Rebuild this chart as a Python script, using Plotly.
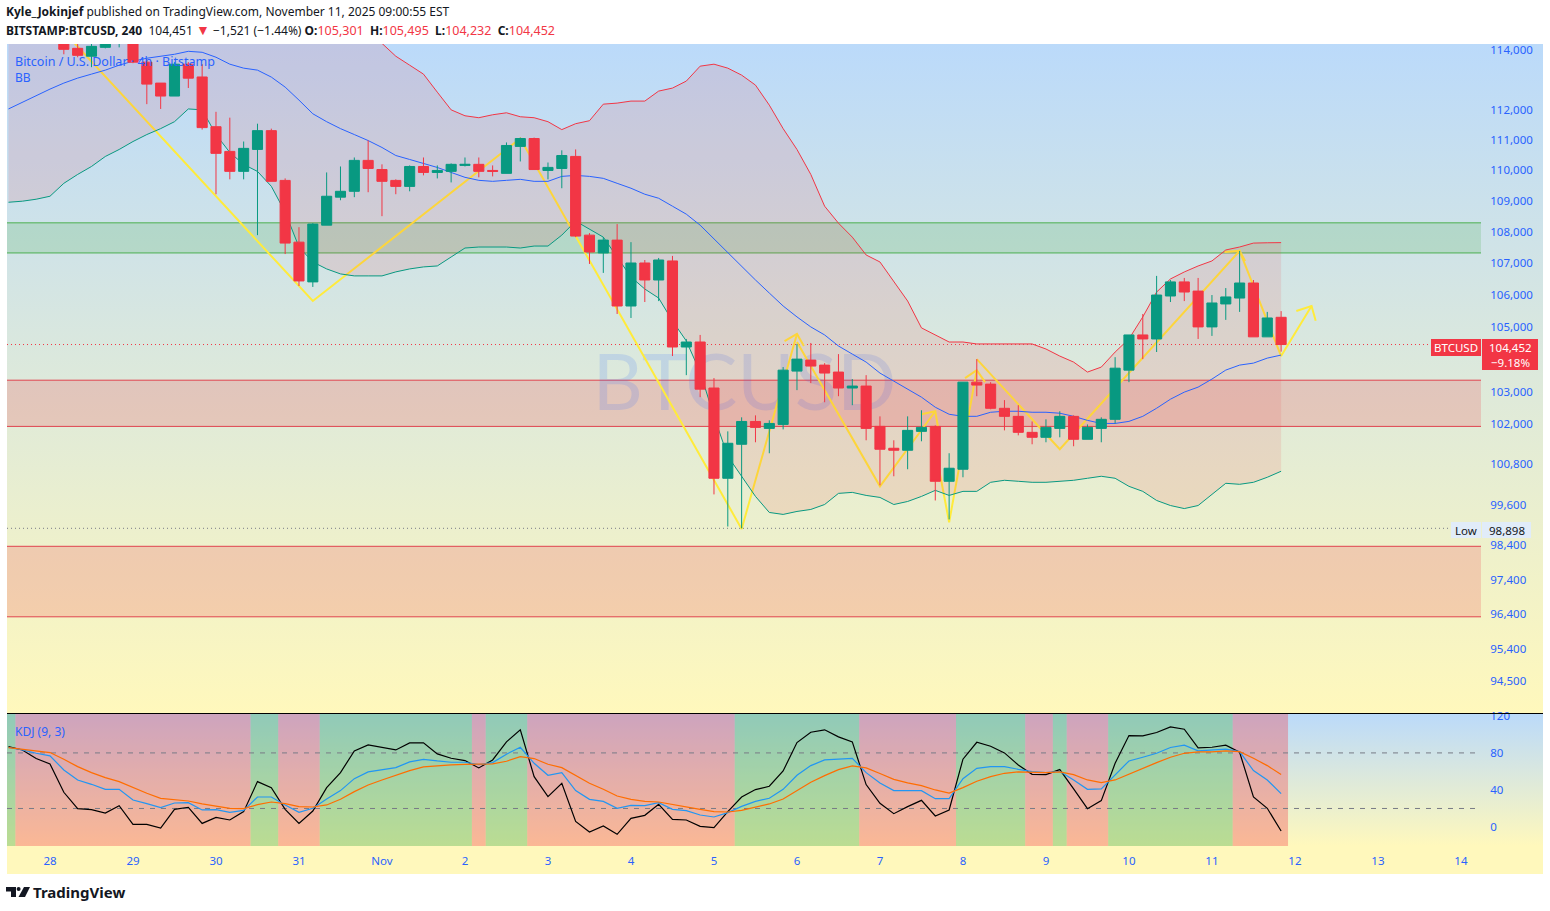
import plotly.graph_objects as go

W, H = 1550, 911
UP, DOWN = "#089981", "#F23645"
AXIS_BLUE = "#2962FF"
FONT = "Noto Sans"

# bars are numbered from the Oct 28 00:00 candle, 6 bars a day
candle_bars = list(range(1, 90))
opens = [114536, 114067, 113800, 114100, 114300, 114400, 113600, 112895, 112460, 113530,
         113100, 111440, 110625, 109970, 110690, 111310, 109675, 107680, 106415, 108225,
         109130, 109320, 110330, 110030, 109675, 109480, 110130, 109935, 109970, 110165,
         110200, 110000, 109905, 110790, 111050, 110000, 110065, 110460, 107905, 107335,
         107745, 105655, 107015, 106475, 107080, 104375, 104530, 103110, 100380, 101400,
         102090, 101880, 102000, 103630, 103970, 103815, 103600, 103110, 103170, 101940,
         101280, 101220, 101790, 101940, 100290, 100650, 103290, 103230, 102490, 102245,
         101760, 101610, 101880, 102245, 101550, 101880, 102155, 103660, 104750, 104625,
         105970, 106415, 106125, 105000, 105720, 105905, 106380, 104690, 105301]
highs = [114600, 114235, 114300, 114450, 114500, 114500, 113700, 112895, 113600, 113600,
         113530, 111935, 111740, 110950, 111540, 111375, 109740, 108160, 108290, 109935,
         110130, 110425, 110985, 110200, 109710, 110165, 110425, 110165, 110230, 110425,
         110425, 110165, 110920, 111080, 111080, 110260, 110660, 110690, 107970, 107840,
         108260, 107680, 107110, 107175, 107240, 104625, 104750, 103415, 101790, 102215,
         102275, 102125, 103755, 104470, 104500, 103875, 104155, 103385, 103505, 102245,
         101520, 102245, 102430, 101970, 101130, 103290, 104000, 103290, 102740, 102585,
         102090, 102155, 102400, 102275, 102000, 102215, 104060, 104750, 105405, 106605,
         106475, 106540, 106540, 106000, 106220, 107400, 106475, 105470, 105495]
lows = [113866, 113765, 113430, 114067, 114100, 113565, 112190, 112030, 112460, 112730,
        111345, 109225, 109710, 109710, 107905, 109645, 107300, 106285, 106255, 108225,
        109030, 109130, 109290, 108515, 109225, 109320, 109840, 109740, 109610, 110130,
        109775, 109805, 109905, 110295, 110030, 109710, 109420, 107840, 106985, 106700,
        105405, 105280, 105780, 105810, 104095, 103505, 102830, 99900, 98950, 98898,
        101460, 101130, 101850, 103045, 103260, 102675, 102860, 102585, 101520, 100170,
        100440, 100650, 101490, 99720, 99160, 100410, 102860, 102460, 101820, 101670,
        101400, 101460, 101610, 101340, 101550, 101460, 102030, 103290, 104000, 104220,
        105780, 105810, 104625, 104720, 105220, 105470, 104690, 104690, 104232]
closes = [114033, 113830, 114134, 114350, 114420, 113600, 112860, 112460, 113530, 113060,
          111410, 110560, 109970, 110725, 111310, 109645, 107650, 106445, 108260, 109160,
          109320, 110330, 110065, 109645, 109480, 110130, 109935, 110000, 110200, 110200,
          109970, 109970, 110820, 111050, 110030, 110100, 110490, 107875, 107365, 107745,
          105655, 107015, 106475, 107110, 104375, 104530, 103075, 100380, 101430, 102090,
          101910, 102030, 103660, 104000, 103785, 103570, 103110, 103170, 101880, 101250,
          101220, 101820, 101910, 100290, 100680, 103290, 103200, 102490, 102245, 101760,
          101610, 101910, 102245, 101550, 101910, 102155, 103720, 104750, 104625, 106000,
          106415, 106095, 105000, 105750, 105940, 106380, 104690, 105280, 104452]

band_bars = list(range(-3, 90))
bb_upper = [115700, 115650, 115600, 115550, 115500, 115450, 115400, 115350, 115300, 115250,
            115200, 115200, 115250, 115300, 115350, 115400, 115350, 115300, 115200, 115100,
            115000, 114900, 114800, 114700, 114600, 114500, 114400, 114235, 113800, 113498,
            113196, 112590, 112000, 111803, 111738, 111836, 111902, 111770, 111738, 111606,
            111344, 111540, 111639, 112190, 112225, 112292, 112292, 112626, 112727, 112962,
            113464, 113531, 113397, 113162, 112827, 112157, 111377, 110688, 109870, 108837,
            108290, 107841, 107270, 107047, 106415, 105812, 104970, 104750, 104530, 104530,
            104470, 104470, 104470, 104470, 104470, 104313, 104094, 103908, 103600, 103754,
            104219, 104625, 105313, 106095, 106508, 106730, 106920, 107080, 107430, 107525,
            107650, 107660, 107665]
bb_basis = [112030, 112258, 112459, 112693, 112895, 113062, 113196, 113330, 113498, 113632,
            113732, 113800, 113866, 113966, 113933, 113766, 113531, 113397, 113330, 113096,
            112760, 112325, 111869, 111606, 111377, 111180, 110982, 110754, 110490, 110360,
            110230, 110098, 109935, 109775, 109677, 109645, 109677, 109710, 109645, 109645,
            109806, 109838, 109806, 109742, 109580, 109420, 109225, 109095, 108837, 108580,
            108225, 107778, 107333, 106920, 106476, 106063, 105656, 105313, 105000, 104750,
            104406, 104156, 103908, 103569, 103322, 103076, 102830, 102523, 102308, 102246,
            102246, 102370, 102400, 102400, 102370, 102370, 102340, 102246, 102123, 102030,
            102030, 102092, 102246, 102492, 102768, 102984, 103138, 103384, 103661, 103815,
            103876, 104031, 104125]
bb_lower = [108965, 108999, 109063, 109160, 109580, 109870, 110130, 110458, 110688, 110950,
            111180, 111377, 111606, 112030, 112000, 111180, 110590, 110197, 109968, 109483,
            108643, 107524, 107047, 106826, 106668, 106605, 106605, 106605, 106732, 106826,
            106890, 106921, 107206, 107492, 107524, 107524, 107524, 107492, 107555, 107555,
            107905, 108355, 108097, 107841, 107206, 106571, 106190, 105906, 105188, 104563,
            103600, 102246, 101040, 100440, 99840, 99365, 99307, 99395, 99454, 99600,
            99930, 99960, 99870, 99810, 99600, 99690, 99840, 100020, 99870, 99990,
            99990, 100260, 100320, 100290, 100260, 100260, 100290, 100320, 100380, 100440,
            100380, 100140, 99990, 99720, 99570, 99480, 99570, 99900, 100230, 100200,
            100260, 100410, 100590]

kdj_k = [85.8, 83.2, 79.6, 76.8, 61.6, 50.8, 46.1, 40.7, 40.7, 29.2,
         25.2, 20.9, 25.9, 26.3, 18.4, 18.7, 15.8, 18.0, 32.4, 32.4,
         23.8, 15.8, 20.2, 30.3, 39.3, 52.2, 59.5, 62.0, 64.1, 70.3,
         73.1, 71.3, 69.9, 69.9, 67.4, 69.5, 78.6, 86.1, 68.8, 55.8,
         58.7, 39.3, 29.9, 27.7, 20.2, 23.4, 23.1, 26.3, 19.1, 17.6,
         13.0, 10.8, 15.5, 22.3, 27.7, 31.0, 40.7, 55.8, 66.3, 72.4,
         73.5, 74.2, 58.7, 47.6, 39.3, 38.9, 39.3, 30.6, 30.6, 52.2,
         63.4, 65.2, 65.2, 62.3, 59.8, 58.7, 60.2, 50.8, 40.7, 41.1,
         56.2, 71.3, 75.3, 79.6, 85.8, 88.3, 82.2, 82.9, 84.0, 81.4,
         60.9, 50.8, 36.0]
kdj_d = [85.8, 84.0, 82.5, 80.4, 73.1, 65.2, 58.7, 53.3, 49.0, 42.5,
         36.4, 31.0, 29.5, 28.1, 24.9, 22.7, 20.2, 19.8, 24.1, 27.0,
         25.2, 22.0, 21.6, 23.8, 29.9, 38.2, 45.4, 50.8, 55.8, 60.9,
         64.9, 66.3, 67.0, 67.7, 67.7, 68.1, 71.0, 76.0, 73.9, 67.7,
         64.1, 55.5, 47.2, 40.7, 33.5, 29.9, 27.7, 27.0, 24.1, 22.0,
         19.1, 16.6, 16.2, 18.0, 21.3, 24.9, 30.3, 39.3, 48.3, 55.5,
         62.0, 65.9, 63.8, 57.7, 51.5, 47.6, 44.7, 40.0, 36.7, 42.5,
         49.4, 54.4, 58.0, 59.5, 58.7, 58.7, 59.5, 56.6, 50.8, 47.9,
         50.8, 57.3, 63.8, 69.5, 75.3, 79.6, 81.1, 81.1, 82.2, 81.4,
         74.2, 66.3, 56.6]
kdj_j = [86.8, 83.2, 73.9, 68.1, 37.5, 19.8, 18.7, 15.1, 23.0, 2.9,
         2.9, -1.1, 19.1, 21.3, 3.9, 10.4, 7.6, 16.6, 49.0, 42.5,
         19.1, 3.9, 17.3, 42.5, 58.7, 82.2, 88.6, 85.8, 83.2, 90.8,
         90.8, 78.9, 74.2, 71.7, 63.8, 72.4, 91.9, 104.9, 54.4, 32.8,
         47.2, 6.1, -5.4, 1.1, -7.9, 9.4, 12.6, 24.5, 8.3, 7.6,
         0.7, -0.7, 16.6, 32.4, 40.4, 44.0, 60.5, 91.2, 102.3, 104.9,
         97.3, 91.9, 45.8, 25.6, 14.4, 22.0, 28.8, 11.9, 18.4, 73.2,
         91.5, 87.2, 80.0, 67.0, 56.9, 56.6, 62.0, 41.1, 19.8, 28.5,
         68.8, 98.7, 98.4, 102.0, 108.1, 105.6, 85.4, 86.1, 88.3, 80.7,
         32.4, 20.2, -4.3]
# green and red stretches of the KDJ pane alternate between these edges, green first
kdj_edges = [-3.11, -2.5, 14.5, 16.5, 19.5, 30.5, 31.5, 34.5, 49.5, 58.5,
             65.5, 70.5, 72.5, 73.5, 76.5, 85.5, 89.5]

# hand drawn zigzags, (bar, price) per vertex
zigzag_lines = [
    ([1, 19, 34, 50, 54], [114636, 105812, 111050, 98880, 104780]),
    ([53.1, 54, 54.5], [104560, 104780, 104406]),
    ([54, 60, 64], [104530, 100140, 102400]),
    ([63, 64, 64.2], [102308, 102400, 101910]),
    ([64, 65, 67], [101250, 99075, 103660]),
    ([66.15, 67, 67.6], [103415, 103660, 103290]),
    ([67, 73, 86, 89, 91.2], [104000, 101250, 107400, 104095, 105655]),
    ([84.9, 86, 86.4], [107365, 107400, 107080]),
    ([90.1, 91.2, 91.5], [105500, 105655, 105190]),
]

supply_zone = (107335, 108300)
mid_zone = (101940, 103350)
demand_zone = (96330, 98370)
last_price = 104452
low_price = 98898

price_ticks = [114000, 112000, 111000, 110000, 109000, 108000, 107000, 106000, 105000,
               103000, 102000, 100800, 99600, 98400, 97400, 96400, 95400, 94500]
kdj_ticks = [120, 80, 40, 0]
day_bars = [0, 6, 12, 18, 24, 30, 36, 42, 48, 54, 60, 66, 72, 78, 84, 90, 96, 102]
day_labels = ["28", "29", "30", "31", "Nov", "2", "3", "4", "5", "6", "7", "8", "9",
              "10", "11", "12", "13", "14"]


def dom_x(left, right):
    return [left / W, right / W]


def dom_y(top, bottom):
    return [1 - bottom / H, 1 - top / H]


def label(px, py, text, size=12, color="#131722", anchor="left", font=FONT):
    return dict(x=px / W, y=1 - py / H, xref="paper", yref="paper", text=text, showarrow=False,
                xanchor=anchor, yanchor="middle", font=dict(family=font, size=size, color=color),
                borderpad=0, borderwidth=0)


def box(left, top, right, bottom, color):
    return dict(type="rect", xref="paper", yref="paper", x0=left / W, x1=right / W,
                y0=1 - bottom / H, y1=1 - top / H, fillcolor=color, line_width=0, layer="above")


bar_range = [-3.108, 103.45]
fig = go.Figure()

# pane backgrounds, each pane has its own blue to yellow gradient
YELLOW, SKY = "#FFF8BC", "#BBDAFA"
split = (874 - 713.5) / (874 - 44)
kdj_flat = (874 - 846) / (874 - 713.5)
bg_bands = [(split, 1, [[0, YELLOW], [1, SKY]]),
            (0, split, [[0, YELLOW], [kdj_flat, YELLOW], [1, SKY]])]
for y0, y1, scale in bg_bands:
    fig.add_trace(go.Scatter(
        x=[0, 1, 1, 0, 0], y=[y0, y0, y1, y1, y0], mode="lines", line_width=0, fill="toself",
        fillgradient=dict(type="vertical", colorscale=scale),
        hoverinfo="skip", xaxis="x", yaxis="y",
    ))

# watermark and drawings sit under the Bollinger fill
fig.add_trace(go.Scatter(
    x=[50.2], y=[103020], mode="text", text=["BTCUSD"], textposition="middle center",
    textfont=dict(family="Lato", size=78, color="rgba(41,98,255,0.15)"),
    hoverinfo="skip", xaxis="x2", yaxis="y2",
))
for xs, ys in zigzag_lines:
    fig.add_trace(go.Scatter(x=xs, y=ys, mode="lines", line=dict(color="#FFEB3B", width=2),
                             hoverinfo="skip", xaxis="x2", yaxis="y2"))

fig.add_trace(go.Scatter(x=band_bars, y=bb_upper, mode="lines", line=dict(color=DOWN, width=1),
                         xaxis="x2", yaxis="y2"))
fig.add_trace(go.Scatter(x=band_bars, y=bb_lower, mode="lines", line=dict(color=UP, width=1),
                         fill="tonexty", fillcolor="rgba(242,54,69,0.12)", xaxis="x2", yaxis="y2"))
fig.add_trace(go.Scatter(x=band_bars, y=bb_basis, mode="lines", line=dict(color=AXIS_BLUE, width=1),
                         xaxis="x2", yaxis="y2"))

fig.add_trace(go.Candlestick(
    x=candle_bars, open=opens, high=highs, low=lows, close=closes,
    increasing=dict(line=dict(color=UP, width=1), fillcolor=UP),
    decreasing=dict(line=dict(color=DOWN, width=1), fillcolor=DOWN),
    xaxis="x3", yaxis="y3",
))

fig.add_trace(go.Scatter(x=band_bars, y=kdj_j, mode="lines", line=dict(color="#000000", width=1.2),
                         xaxis="x4", yaxis="y4"))
fig.add_trace(go.Scatter(x=band_bars, y=kdj_k, mode="lines", line=dict(color="#2196F3", width=1.2),
                         xaxis="x4", yaxis="y4"))
fig.add_trace(go.Scatter(x=band_bars, y=kdj_d, mode="lines", line=dict(color="#FF6D00", width=1.2),
                         xaxis="x4", yaxis="y4"))

shapes = []
zone_styles = [(supply_zone, "rgba(76,175,80,0.2)", "#4CAF50"),
               (mid_zone, "rgba(242,54,69,0.2)", "#E0434F"),
               (demand_zone, "rgba(242,54,69,0.2)", "#E0434F")]
for (lo, hi), fill, edge in zone_styles:
    shapes.append(dict(type="rect", xref="x2", yref="y2", x0=bar_range[0], x1=bar_range[1],
                       y0=lo, y1=hi, fillcolor=fill, line_width=0, layer="below"))
    for edge_price in (lo, hi):
        shapes.append(dict(type="line", xref="x2", yref="y2", x0=bar_range[0], x1=bar_range[1],
                           y0=edge_price, y1=edge_price, line=dict(color=edge, width=1), layer="below"))
shapes.append(dict(type="line", xref="x2", yref="y2", x0=bar_range[0], x1=bar_range[1],
                   y0=last_price, y1=last_price, line=dict(color=DOWN, width=1, dash="1px,3px"), layer="below"))
shapes.append(dict(type="line", xref="x2", yref="y2", x0=bar_range[0], x1=101.3,
                   y0=low_price, y1=low_price, line=dict(color="#787B86", width=1, dash="1px,3px"), layer="below"))

for i in range(len(kdj_edges) - 1):
    fill = "rgba(76,175,80,0.38)" if i % 2 == 0 else "rgba(242,54,69,0.33)"
    shapes.append(dict(type="rect", xref="x4", yref="y4", x0=kdj_edges[i], x1=kdj_edges[i + 1],
                       y0=-20.5, y1=122, fillcolor=fill, line_width=0, layer="below"))
for level in [80, 20]:
    shapes.append(dict(type="line", xref="x4", yref="y4", x0=bar_range[0], x1=bar_range[1],
                       y0=level, y1=level, line=dict(color="#787B86", width=1, dash="5px,6px"),
                       layer="below"))

# pane separator
shapes.append(dict(type="line", xref="paper", yref="paper", x0=7 / W, x1=1543 / W,
                   y0=1 - 713.5 / H, y1=1 - 713.5 / H, line=dict(color="#000000", width=1)))

# price scale flags
shapes.append(box(1431, 339, 1481, 356, DOWN))
shapes.append(box(1482, 339, 1538, 370, DOWN))
shapes.append(box(1451, 522, 1481, 538, "#E1ECF9"))
shapes.append(box(1482, 522, 1531, 538, "#E1ECF9"))

# TradingView mark
logo_t = "M {} {} H {} V {} H {} V {} H {} Z".format(6 / W, 1 - 887 / H, 16 / W, 1 - 897 / H, 11 / W,
                                                     1 - 891.5 / H, 6 / W)
logo_v = "M {} {} L {} {} L {} {} L {} {} Z".format(24 / W, 1 - 887 / H, 30 / W, 1 - 887 / H,
                                                    25 / W, 1 - 897 / H, 18.5 / W, 1 - 897 / H)
for path in [logo_t, logo_v]:
    shapes.append(dict(type="path", xref="paper", yref="paper", path=path, fillcolor="#131722",
                       line_width=0))
shapes.append(dict(type="circle", xref="paper", yref="paper", x0=16.6 / W, x1=20.6 / W,
                   y0=1 - 891 / H, y1=1 - 887 / H, fillcolor="#131722", line_width=0))

red_value = '<span style="color:#F23645;font-size:12.5px">{}</span>'
gap = "\u00a0"
ohlc_line = ("<b>BITSTAMP:BTCUSD, 240</b>" + gap * 2 + "104,451" + gap
             + '<span style="color:#F23645;font-size:14px">▼</span> −1,521 (−1.44%)' + gap
             + "<b>O:</b>" + red_value.format("105,301") + gap * 2
             + "<b>H:</b>" + red_value.format("105,495") + gap * 2
             + "<b>L:</b>" + red_value.format("104,232") + gap * 2
             + "<b>C:</b>" + red_value.format("104,452"))

annotations = [
    label(6, 12, "<b>Kyle_Jokinjef</b> published on TradingView.com, November 11, 2025 09:00:55 EST"),
    label(6, 29, ohlc_line),
    label(15, 61, "Bitcoin / U.S. Dollar · 4h · Bitstamp", size=12.5, color=AXIS_BLUE),
    label(15, 77, "BB", size=12, color=AXIS_BLUE),
    label(15, 731, "KDJ (9, 3)", size=12, color=AXIS_BLUE),
    label(1456, 347.5, "BTCUSD", size=11.5, color="#FFFFFF", anchor="center"),
    label(1510, 347.5, "104,452", size=11.5, color="#FFFFFF", anchor="center"),
    label(1510, 362, "−9.18%", size=11.5, color="#FFFFFF", anchor="center"),
    label(1466, 530.5, "Low", size=11.5, anchor="center"),
    label(1507, 530.5, "98,898", size=11.5, anchor="center"),
    label(33, 892, "<b>TradingView</b>", size=15),
]

tick_font = dict(family=FONT, size=11.5, color=AXIS_BLUE)
hidden = dict(visible=False, fixedrange=True)
price_range = [4.97134, 5.05772]

fig.update_layout(
    width=W, height=H, margin=dict(l=0, r=0, t=0, b=0, autoexpand=False), paper_bgcolor="#FFFFFF",
    plot_bgcolor="rgba(0,0,0,0)", showlegend=False, hovermode=False, boxgap=0.27, boxgroupgap=0,
    shapes=shapes, annotations=annotations,
    xaxis=dict(domain=dom_x(7, 1543), range=[0, 1], anchor="y", **hidden),
    yaxis=dict(domain=dom_y(44, 874), range=[0, 1], anchor="x", **hidden),
    xaxis2=dict(domain=dom_x(7, 1481), range=bar_range, anchor="y2", **hidden),
    yaxis2=dict(domain=dom_y(44, 713), type="log", range=price_range, side="right", anchor="x2",
                tickmode="array", tickvals=price_ticks, ticktext=[f"{v:,}" for v in price_ticks],
                tickfont=tick_font, ticks="outside", ticklen=6, tickcolor="rgba(0,0,0,0)",
                showgrid=False, zeroline=False, showline=False),
    xaxis3=dict(domain=dom_x(7, 1481), range=bar_range, anchor="y3", rangeslider=dict(visible=False), **hidden),
    yaxis3=dict(domain=dom_y(44, 713), type="log", range=price_range, anchor="x3", **hidden),
    xaxis4=dict(domain=dom_x(7, 1481), range=bar_range, anchor="y4", tickmode="array",
                tickvals=day_bars, ticktext=day_labels, tickfont=tick_font, ticks="outside", ticklen=4,
                tickcolor="rgba(0,0,0,0)", showgrid=False, zeroline=False, showline=False),
    yaxis4=dict(domain=dom_y(714, 846), range=[-20.5, 122], side="right", anchor="x4",
                tickmode="array", tickvals=kdj_ticks, tickfont=tick_font, ticks="outside", ticklen=6,
                tickcolor="rgba(0,0,0,0)", showgrid=False, zeroline=False, showline=False),
)

fig.write_html("out.html", config=dict(displayModeBar=False),
               post_script="document.body.style.margin='0';")
